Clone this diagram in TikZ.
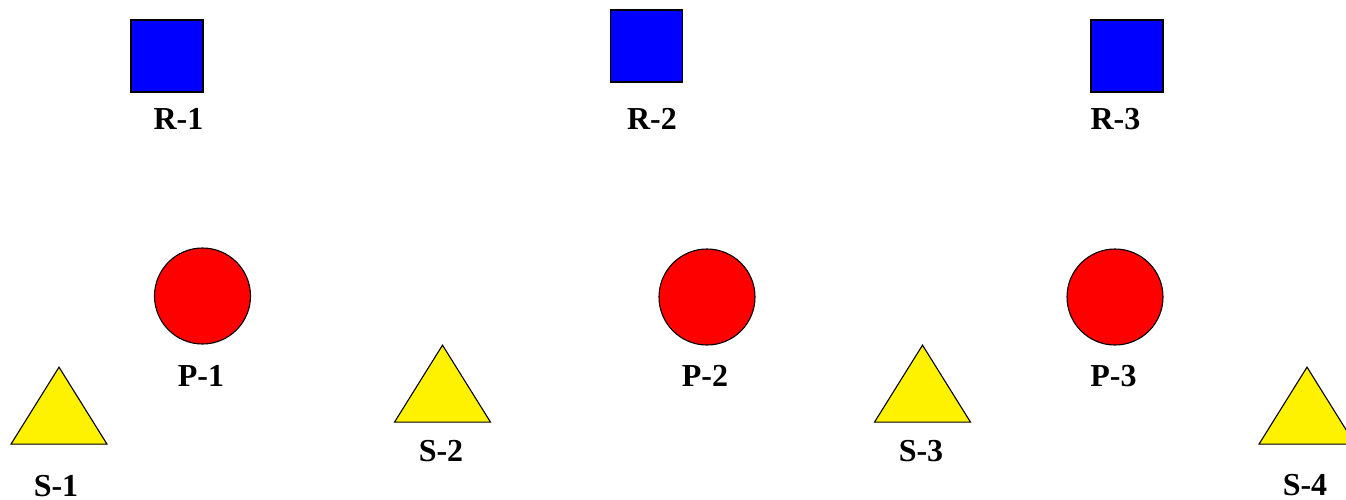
\documentclass[tikz,border=0pt]{standalone}
\usepackage{fontspec}
\setmainfont{Liberation Serif}
\usetikzlibrary{shapes.geometric}

\begin{document}
\begin{tikzpicture}[
  x=1pt, y=-1pt,
  rbox/.style={draw, fill=blue, line width=1.3pt, minimum size=72pt, inner sep=0pt},
  pcirc/.style={draw, circle, fill=red, line width=1.1pt, minimum size=96pt, inner sep=0pt},
  stri/.style={draw, isosceles triangle, isosceles triangle stretches,
               shape border rotate=90, fill=yellow, line width=1.1pt,
               minimum width=96pt, minimum height=77pt, inner sep=0pt},
  lbl/.style={font=\fontsize{32}{36}\selectfont\bfseries, inner sep=0pt}
]
\useasboundingbox (0,0) rectangle (1346,499);

% R row
\node[rbox] at (167,  56) (r1) {};
\node[rbox] at (646.5,46) (r2) {};
\node[rbox] at (1127, 56) (r3) {};
\node[lbl] at (178.5,119) (r1l) {R-1};
\node[lbl] at (652,  119) (r2l) {R-2};
\node[lbl] at (1115.5,119) (r3l) {R-3};

% P row
\node[pcirc] at (202.5,296) (p1) {};
\node[pcirc] at (707,  297) (p2) {};
\node[pcirc] at (1115, 297) (p3) {};
\node[lbl] at (201,   376) (p1l) {P-1};
\node[lbl] at (705,   376) (p2l) {P-2};
\node[lbl] at (1113.5,376) (p3l) {P-3};

% S row
\node[stri] at (59,   417.5) (s1) {};
\node[stri] at (442.5,395.5) (s2) {};
\node[stri] at (922.5,395.5) (s3) {};
\node[stri] at (1307, 417.5) (s4) {};
\node[lbl] at (56,  486) (s1l) {S-1};
\node[lbl] at (441, 451) (s2l) {S-2};
\node[lbl] at (921, 451) (s3l) {S-3};
\node[lbl] at (1305,485) (s4l) {S-4};

\end{tikzpicture}
\end{document}
